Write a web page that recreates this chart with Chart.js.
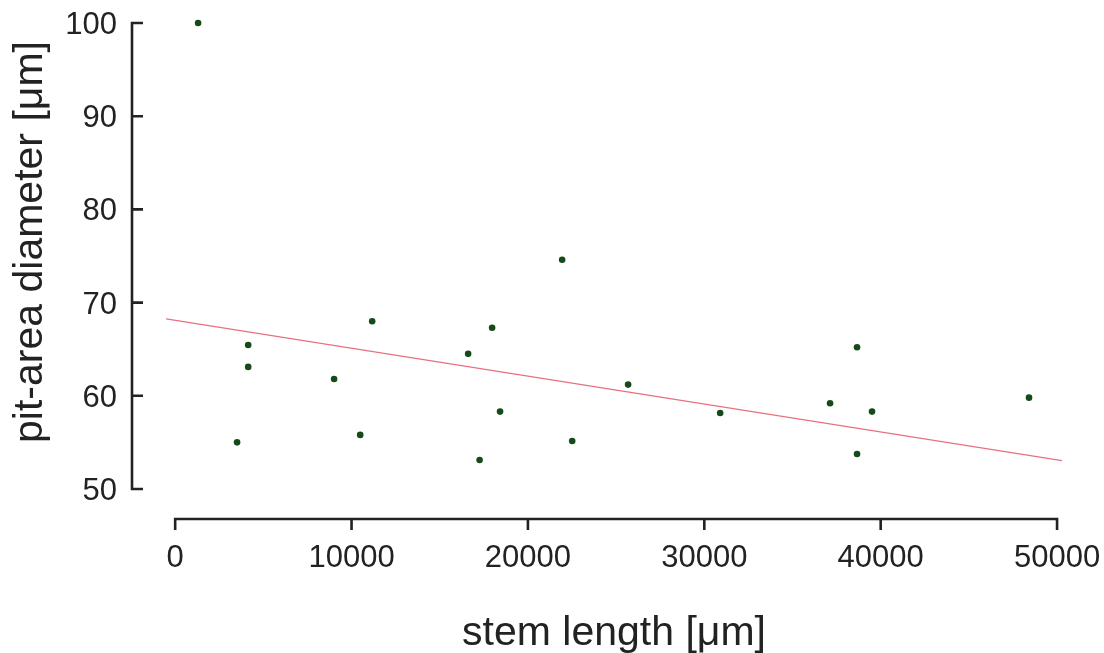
<!DOCTYPE html>
<html>
<head>
<meta charset="utf-8">
<script src="https://cdn.jsdelivr.net/npm/chart.js@4.4.1/dist/chart.umd.min.js"></script>
<style>
  html, body { margin: 0; padding: 0; background: #fff; }
</style>
</head>
<body>
<canvas id="scatterChart" width="1104" height="653"></canvas>
<script>
// stem length [µm] of each sample
const stemLength = [1300, 3510, 4140, 4140, 9010, 10490, 11170, 16610, 17260, 17970,
  18420, 21940, 22510, 25680, 30900, 37130, 38660, 38660, 39510, 48410];
// pit-area diameter [µm] of each sample
const pitDiameter = [100, 55.0, 65.45, 63.1, 61.8, 55.8, 68.0, 64.5, 53.1, 67.3,
  58.3, 74.6, 55.15, 61.2, 58.15, 59.2, 65.2, 53.75, 58.3, 59.8];

// regression line, read at both edges of the plot region
const fitX = [-520, 50280];
const fitY = [68.25, 53.05];

// tick labels
const xTicks = [0, 10000, 20000, 30000, 40000, 50000];
const yTicks = [50, 60, 70, 80, 90, 100];

const fontFamily = '"Liberation Sans", Arial, sans-serif';

// R style detached axes, tick labels and axis titles
const rAxes = {
  id: "rAxes",
  afterDraw(chart) {
    const { ctx, scales: { x, y } } = chart;
    ctx.save();
    ctx.strokeStyle = "#222";
    ctx.lineWidth = 2.6;
    ctx.lineJoin = "miter";

    // y axis, ticks pointing inward
    const ax = x.left - 34, tk = 11;
    const yb = y.getPixelForValue(yTicks[0]);
    const yt = y.getPixelForValue(yTicks[yTicks.length - 1]);
    ctx.beginPath();
    ctx.moveTo(ax + tk, yb);
    ctx.lineTo(ax, yb);
    ctx.lineTo(ax, yt);
    ctx.lineTo(ax + tk, yt);
    yTicks.slice(1, -1).forEach((v) => {
      const p = y.getPixelForValue(v);
      ctx.moveTo(ax, p);
      ctx.lineTo(ax + tk, p);
    });
    ctx.stroke();

    // x axis, ticks pointing down
    const ay = y.bottom + 17;
    const xl = x.getPixelForValue(xTicks[0]);
    const xr = x.getPixelForValue(xTicks[xTicks.length - 1]);
    ctx.beginPath();
    ctx.moveTo(xl, ay + tk);
    ctx.lineTo(xl, ay);
    ctx.lineTo(xr, ay);
    ctx.lineTo(xr, ay + tk);
    xTicks.slice(1, -1).forEach((v) => {
      const p = x.getPixelForValue(v);
      ctx.moveTo(p, ay);
      ctx.lineTo(p, ay + tk);
    });
    ctx.stroke();

    // tick labels
    ctx.fillStyle = "#222";
    ctx.font = "31px " + fontFamily;
    ctx.textBaseline = "alphabetic";
    ctx.textAlign = "center";
    xTicks.forEach((v) => {
      ctx.fillText(String(v), x.getPixelForValue(v), ay + 48);
    });
    ctx.textAlign = "right";
    yTicks.forEach((v) => {
      ctx.fillText(String(v), ax - 15, y.getPixelForValue(v) + 11);
    });

    // axis titles
    ctx.font = "41px " + fontFamily;
    ctx.textAlign = "center";
    ctx.fillText("stem length [μm]", (x.left + x.right) / 2, 645);

    ctx.translate(41.6, 242);
    ctx.rotate(-Math.PI / 2);
    ctx.fillText("pit-area diameter [μm]", 0, 0);
    ctx.restore();
  },
};

const ctx = document.getElementById("scatterChart").getContext("2d");

const scatterChart = new Chart(ctx, {
  type: "scatter",
  data: {
    datasets: [
      {
        label: "samples",
        data: stemLength.map((v, i) => ({ x: v, y: pitDiameter[i] })),
        pointRadius: 3.3,
        pointBackgroundColor: "#174a19",
        pointBorderWidth: 0,
        order: 1,
      },
      {
        type: "line",
        label: "fit",
        data: fitX.map((v, i) => ({ x: v, y: fitY[i] })),
        borderColor: "#e8707c",
        borderWidth: 1.2,
        pointRadius: 0,
        fill: false,
        order: 2,
      },
    ],
  },
  options: {
    responsive: false,
    animation: false,
    devicePixelRatio: 1,
    layout: {
      padding: { top: 4.4, right: 42, left: 0, bottom: 0 },
    },
    plugins: {
      legend: { display: false },
      tooltip: { enabled: false },
    },
    scales: {
      x: {
        type: "linear",
        min: -520,
        max: 50280,
        afterBuildTicks: (s) => { s.ticks = xTicks.map((v) => ({ value: v })); },
        afterFit: (s) => { s.height = 151; },
        grid: { display: false, drawTicks: false },
        border: { display: false },
        ticks: { display: false },
      },
      y: {
        min: 48.6,
        max: 102,
        afterBuildTicks: (s) => { s.ticks = yTicks.map((v) => ({ value: v })); },
        afterFit: (s) => { s.width = 166; },
        grid: { display: false, drawTicks: false },
        border: { display: false },
        ticks: { display: false },
      },
    },
  },
  plugins: [rAxes],
});
</script>
</body>
</html>
